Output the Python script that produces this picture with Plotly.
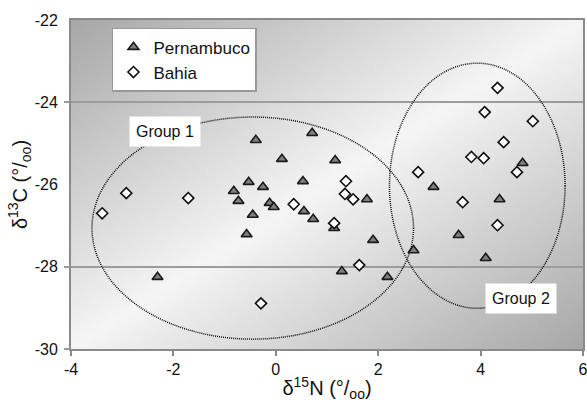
import base64, struct, zlib
import numpy as np
import plotly.graph_objects as go

# ---------------- data ----------------
pern_x = [-2.31, -0.82, -0.73, -0.57, -0.53, -0.45, -0.39, -0.25, -0.12, -0.04,
          0.12, 0.53, 0.55, 0.71, 0.73, 1.14, 1.16, 1.29, 1.78, 1.90,
          2.18, 2.69, 3.08, 3.57, 4.10, 4.37, 4.82]
pern_y = [-28.25, -26.16, -26.40, -27.21, -25.94, -26.74, -24.92, -26.06, -26.45, -26.55,
          -25.38, -25.92, -26.65, -24.75, -26.84, -27.06, -25.41, -28.11, -26.36, -27.35,
          -28.25, -27.60, -26.06, -27.23, -27.79, -26.36, -25.48]

bahia_x = [-3.39, -2.92, -1.71, -0.29, 0.35, 1.14, 1.35, 1.37, 1.51, 1.63,
           2.78, 3.65, 3.82, 4.06, 4.08, 4.33, 4.33, 4.45, 4.71, 5.02]
bahia_y = [-26.70, -26.21, -26.33, -28.89, -26.48, -26.94, -26.23, -25.92, -26.36, -27.96,
           -25.70, -26.43, -25.33, -25.36, -24.24, -23.65, -26.99, -24.97, -25.70, -24.46]

series_names = ["Pernambuco", "Bahia"]
group_names = ["Group 1", "Group 2"]
# ellipse extents (x0, x1, y0, y1) and label anchor (x, y)
group_extent = [(-3.59, 2.69, -29.76, -24.36), (2.22, 5.65, -29.01, -23.05)]
group_label_pos = [(-2.16, -24.70), (4.79, -28.76)]

x_range = [-4, 6]
y_range = [-30, -22]
x_ticks = [-4, -2, 0, 2, 4, 6]
x_tick_text = ["-4", "-2", "0", "2", "4", "6"]
y_ticks = [-30, -28, -26, -24, -22]
y_tick_text = ["-30", "-28", "-26", "-24", "-22"]
y_grid = [-30, -28, -24]

x_title = "δ<sup>15</sup>N (°/<sub>oo</sub>)"
y_title = "δ<sup>13</sup>C (°/<sub>oo</sub>)"

# ---------------- gradient background (decorative) ----------------
W, H = 200, 130
s = np.linspace(0, 1, W)[None, :]
t = np.linspace(1, 0, H)[:, None]
d = np.abs(s - t)
img = np.clip(246 - 78 * d, 0, 255).astype(np.uint8)


def png_bytes(a):
    h, w = a.shape
    raw = b"".join(b"\x00" + a[i].tobytes() for i in range(h))

    def chunk(tag, data):
        c = struct.pack(">I", len(data)) + tag + data
        return c + struct.pack(">I", zlib.crc32(tag + data) & 0xffffffff)

    return (b"\x89PNG\r\n\x1a\n" + chunk(b"IHDR", struct.pack(">IIBBBBB", w, h, 8, 0, 0, 0, 0))
            + chunk(b"IDAT", zlib.compress(raw, 9)) + chunk(b"IEND", b""))


bg_uri = "data:image/png;base64," + base64.b64encode(png_bytes(img)).decode()

FONT = "Arial, 'Liberation Sans', sans-serif"

fig = go.Figure()
fig.add_trace(go.Scatter(
    x=pern_x, y=pern_y, mode="markers", name=series_names[0],
    marker=dict(symbol="triangle-up", size=9.5, color="#7f7f7f",
                line=dict(color="#1a1a1a", width=1.6)),
))
fig.add_trace(go.Scatter(
    x=bahia_x, y=bahia_y, mode="markers", name=series_names[1],
    marker=dict(symbol="diamond", size=8.5, color="white",
                line=dict(color="#111111", width=1.6)),
))
# helper trace so the overlay axis (grid + tick marks) is drawn
fig.add_trace(go.Scatter(x=[None], y=[None], yaxis="y2", showlegend=False,
                         hoverinfo="skip"))

for (x0, x1, y0, y1) in group_extent:
    fig.add_shape(type="circle", xref="x", yref="y", x0=x0, x1=x1, y0=y0, y1=y1,
                  line=dict(color="#111111", width=1.5, dash="1px,1px"))

for name, (gx, gy) in zip(group_names, group_label_pos):
    fig.add_annotation(x=gx, y=gy, xref="x", yref="y", text=name, showarrow=False,
                       bgcolor="white", borderpad=6,
                       font=dict(family=FONT, size=16, color="#111111"))

fig.add_layout_image(dict(source=bg_uri, xref="x", yref="y", x=x_range[0], y=y_range[1],
                          sizex=x_range[1] - x_range[0], sizey=y_range[1] - y_range[0],
                          sizing="stretch", layer="below", xanchor="left", yanchor="top"))

fig.update_layout(
    width=587, height=403,
    margin=dict(l=71, r=4, t=20, b=54),
    paper_bgcolor="white", plot_bgcolor="#e0e0e0",
    font=dict(family=FONT, size=15, color="#111111"),
    xaxis=dict(range=x_range, tickvals=x_ticks, ticktext=x_tick_text, ticks="outside",
               ticklen=5, tickcolor="#888888", tickwidth=1.5, showgrid=False,
               zeroline=False, automargin=False, ticklabeloverflow="allow",
               showline=True, linecolor="#8a8a8a", linewidth=1.8, mirror=True,
               tickfont=dict(size=16),
               title=dict(text=x_title, font=dict(size=20), standoff=4)),
    yaxis=dict(range=y_range, tickvals=y_ticks, ticktext=y_tick_text, ticks="",
               showgrid=False, zeroline=False, automargin=False, ticklabeloverflow="allow",
               showline=True, linecolor="#8a8a8a", linewidth=1.8, mirror=True,
               tickfont=dict(size=16), ticklabelstandoff=8,
               title=dict(text=y_title, font=dict(size=20), standoff=2)),
    yaxis2=dict(range=y_range, overlaying="y", side="left", tickvals=y_grid,
                ticks="outside", ticklen=6, tickcolor="#999999", tickwidth=1.5,
                showticklabels=False, showgrid=True, gridcolor="#9c9c9c", gridwidth=1.5,
                zeroline=False, showline=False, automargin=False),
    legend=dict(x=0.08, y=0.976, xanchor="left", yanchor="top",
                bgcolor="white", bordercolor="#999999", borderwidth=1.5,
                font=dict(family=FONT, size=17, color="#111111"),
                itemwidth=30, tracegroupgap=0),
    showlegend=True,
)

fig.write_html("out.html")
